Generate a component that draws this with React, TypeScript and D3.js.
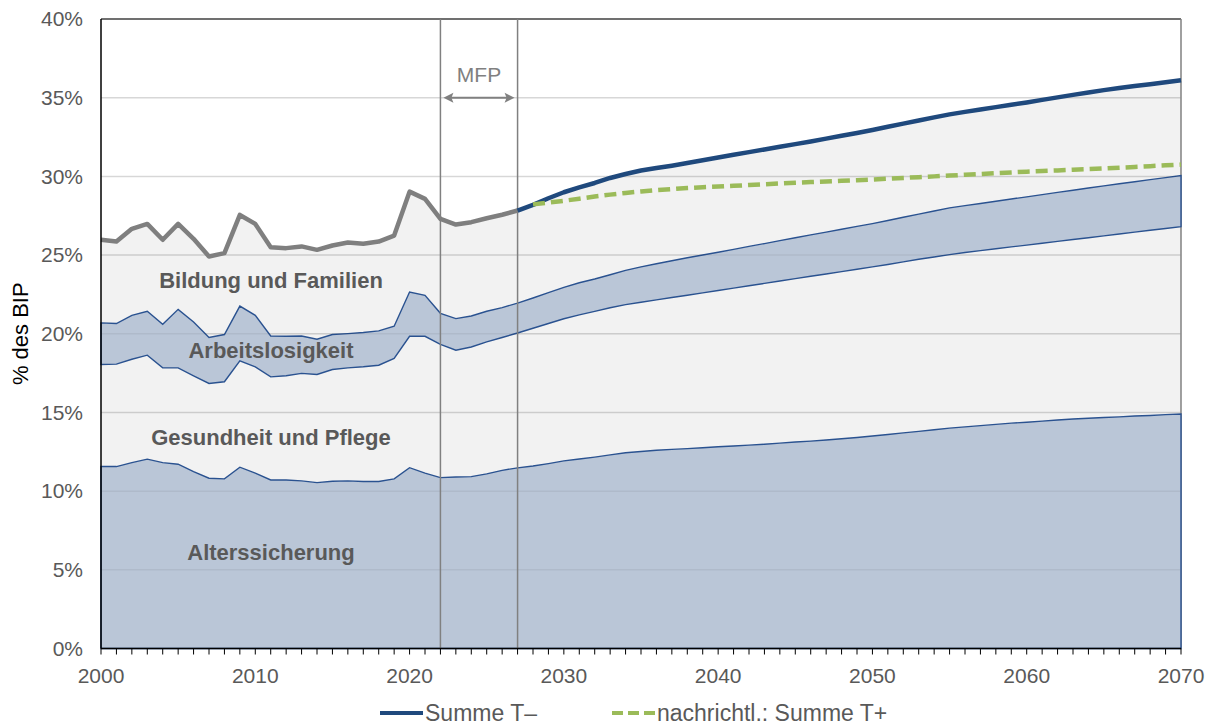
import React from "react";
import * as d3 from "d3";

// years 2000..2070
const years = d3.range(2000, 2071);

// cumulative upper edges of the stacked layers, % des BIP
const alterssicherungTop = [
  11.56, 11.56, 11.81, 12.03, 11.81, 11.71, 11.24, 10.82, 10.78, 11.52, 11.14, 10.71, 10.71, 10.65, 10.54, 10.63,
  10.65, 10.61, 10.61, 10.78, 11.49, 11.14, 10.86, 10.9, 10.92, 11.1, 11.32, 11.48, 11.6, 11.75, 11.92, 12.04,
  12.16, 12.3, 12.44, 12.52, 12.6, 12.65, 12.7, 12.76, 12.82, 12.87, 12.92, 12.98, 13.05, 13.12, 13.18, 13.25,
  13.33, 13.41, 13.5, 13.6, 13.7, 13.8, 13.9, 14.0, 14.08, 14.16, 14.24, 14.32, 14.38, 14.45, 14.52, 14.58, 14.63,
  14.68, 14.72, 14.77, 14.81, 14.86, 14.9,
];
const gesundheitTop = [
  18.05, 18.07, 18.38, 18.64, 17.83, 17.83, 17.33, 16.84, 16.95, 18.28, 17.9, 17.26, 17.33, 17.48, 17.41, 17.73,
  17.83, 17.9, 18.0, 18.43, 19.84, 19.84, 19.33, 18.95, 19.16, 19.48, 19.76, 20.05, 20.35, 20.65, 20.95, 21.2,
  21.42, 21.65, 21.85, 22.0, 22.15, 22.3, 22.45, 22.6, 22.75, 22.9, 23.05, 23.2, 23.35, 23.5, 23.65, 23.8, 23.95,
  24.1, 24.25, 24.4, 24.57, 24.73, 24.88, 25.03, 25.16, 25.28, 25.4, 25.52, 25.63, 25.75, 25.87, 25.99, 26.1,
  26.22, 26.34, 26.46, 26.58, 26.69, 26.81,
];
const arbeitslosigkeitTop = [
  20.69, 20.65, 21.17, 21.43, 20.6, 21.55, 20.75, 19.76, 19.95, 21.76, 21.17, 19.86, 19.84, 19.86, 19.65, 19.95,
  20.01, 20.08, 20.18, 20.48, 22.65, 22.44, 21.3, 20.96, 21.13, 21.43, 21.66, 21.95, 22.27, 22.61, 22.95, 23.24,
  23.48, 23.75, 24.03, 24.25, 24.45, 24.64, 24.83, 25.0, 25.18, 25.36, 25.55, 25.73, 25.92, 26.1, 26.28, 26.46,
  26.64, 26.82, 27.0, 27.2, 27.4, 27.6, 27.8, 28.0, 28.14, 28.28, 28.42, 28.56, 28.7, 28.84, 28.98, 29.12, 29.26,
  29.4, 29.53, 29.66, 29.79, 29.92, 30.05,
];
// Summe T- (= top of Bildung und Familien)
const summeTminus = [
  25.97, 25.86, 26.67, 26.98, 25.97, 26.98, 26.03, 24.91, 25.12, 27.55, 26.98, 25.5, 25.44, 25.55, 25.33, 25.61,
  25.8, 25.72, 25.86, 26.24, 29.03, 28.57, 27.3, 26.94, 27.09, 27.34, 27.56, 27.83, 28.19, 28.61, 28.99, 29.3,
  29.58, 29.9, 30.15, 30.37, 30.53, 30.68, 30.85, 31.02, 31.2, 31.37, 31.54, 31.71, 31.88, 32.05, 32.22, 32.4,
  32.58, 32.76, 32.95, 33.15, 33.35, 33.55, 33.75, 33.94, 34.1, 34.25, 34.4, 34.55, 34.7, 34.86, 35.02, 35.18,
  35.33, 35.48, 35.61, 35.74, 35.86, 35.98, 36.11,
];
// nachrichtl.: Summe T+ (2028..2070)
const tPlusYears = d3.range(2028, 2071);
const summeTplus = [
  28.22, 28.33, 28.45, 28.58, 28.72, 28.84, 28.95, 29.04, 29.12, 29.19, 29.26, 29.31, 29.35, 29.4, 29.45, 29.5,
  29.55, 29.6, 29.64, 29.68, 29.72, 29.76, 29.8, 29.85, 29.9, 29.95, 30.0, 30.05, 30.1, 30.15, 30.2, 30.25, 30.3,
  30.34, 30.38, 30.42, 30.46, 30.5, 30.55, 30.6, 30.65, 30.7, 30.75,
];

const yTicks = [0, 5, 10, 15, 20, 25, 30, 35, 40];
const xTicks = [2000, 2010, 2020, 2030, 2040, 2050, 2060, 2070];
const mfpYears = [2022, 2027];
const histEnd = 2027;

const W = 1214;
const H = 727;
const margin = { top: 19, right: 33, bottom: 78, left: 101 };
const FONT = "'Liberation Sans', Arial, sans-serif";
const BLUE_FILL = "#BAC6D7";
const BLUE_LINE = "#2A5290";
const GRAY_FILL = "#F2F2F2";
const NAVY = "#1F497D";
const GREEN = "#9BBB59";
const TEXT = "#595959";

export default function App() {
  const x = d3.scaleLinear().domain([2000, 2070]).range([margin.left, W - margin.right]);
  const y = d3.scaleLinear().domain([0, 40]).range([H - margin.bottom - 0.5, margin.top]);

  const band = (lo: (i: number) => number, hi: number[]) =>
    d3
      .area<number>()
      .x((yr) => x(yr))
      .y0((_, i) => y(lo(i)))
      .y1((_, i) => y(hi[i]))(years) as string;

  const alters = band(() => 0, alterssicherungTop);
  const gesund = band((i) => alterssicherungTop[i], gesundheitTop);
  const arbeit = band((i) => gesundheitTop[i], arbeitslosigkeitTop);
  const bildung = band((i) => arbeitslosigkeitTop[i], summeTminus);

  const line = d3
    .line<[number, number]>()
    .x((d) => x(d[0]))
    .y((d) => y(d[1]));
  const pairs = years.map((yr, i) => [yr, summeTminus[i]] as [number, number]);
  const histLine = line(pairs.filter((d) => d[0] <= histEnd)) as string;
  const projLine = line(pairs.filter((d) => d[0] >= histEnd)) as string;
  const plusLine = line(tPlusYears.map((yr, i) => [yr, summeTplus[i]] as [number, number])) as string;

  const x0 = x(2000);
  const x1 = x(2070);
  const yTop = y(40);
  const yBot = y(0);

  const arrowY = y(35);
  const mfpX0 = x(mfpYears[0]);
  const mfpX1 = x(mfpYears[1]);

  return (
    <svg width={W} height={H} style={{ position: "absolute", left: 0, top: 0, fontFamily: FONT }}>
      <rect width={W} height={H} fill="#fff" />
      <path d={bildung} fill={GRAY_FILL} />
      <path d={gesund} fill={GRAY_FILL} />

      {/* gridlines */}
      {yTicks.slice(1, -1).map((t) => (
        <line key={t} x1={x0} x2={x1} y1={y(t)} y2={y(t)} stroke="#000" strokeOpacity={0.1} strokeWidth={1.5} />
      ))}

      {/* plot border */}
      <line x1={x0} x2={x1} y1={yTop} y2={yTop} stroke="#404040" strokeWidth={1.5} />
      <line x1={x1} x2={x1} y1={yTop} y2={yBot} stroke="#808080" strokeWidth={1.5} />

      <path d={arbeit} fill={BLUE_FILL} stroke={BLUE_LINE} strokeWidth={1.4} />
      <path d={alters} fill={BLUE_FILL} stroke={BLUE_LINE} strokeWidth={1.4} />
      {yTicks.slice(1, -1).map((t) => (
        <line key={"b" + t} x1={x0} x2={x1 - 1} y1={y(t)} y2={y(t)} stroke="#000" strokeOpacity={0.06} strokeWidth={1.5} />
      ))}

      {/* MFP markers */}
      {mfpYears.map((yr) => (
        <line key={yr} x1={x(yr)} x2={x(yr)} y1={yTop} y2={yBot} stroke="#808080" strokeWidth={1.5} />
      ))}
      <line x1={mfpX0 + 8} x2={mfpX1 - 8} y1={arrowY} y2={arrowY} stroke="#808080" strokeWidth={2} />
      <path
        d={`M${mfpX0 + 3},${arrowY} L${mfpX0 + 13},${arrowY - 5} L${mfpX0 + 11},${arrowY} L${mfpX0 + 13},${arrowY + 5} Z`}
        fill="#808080"
      />
      <path
        d={`M${mfpX1 - 3},${arrowY} L${mfpX1 - 13},${arrowY - 5} L${mfpX1 - 11},${arrowY} L${mfpX1 - 13},${arrowY + 5} Z`}
        fill="#808080"
      />
      <text x={(mfpX0 + mfpX1) / 2} y={75} dy="0.35em" textAnchor="middle" fontSize={21} fill="#808080">
        MFP
      </text>

      {/* sum lines */}
      <path d={histLine} fill="none" stroke="#7F7F7F" strokeWidth={4.5} strokeLinejoin="round" />
      <path d={projLine} fill="none" stroke={NAVY} strokeWidth={4.5} strokeLinejoin="round" />
      <path d={plusLine} fill="none" stroke={GREEN} strokeWidth={4.5} strokeDasharray="12 6" />

      {/* axes */}
      <line x1={x0} x2={x0} y1={yTop} y2={yBot} stroke="#000" strokeWidth={1.5} />
      <line x1={x0} x2={x1} y1={yBot} y2={yBot} stroke="#000" strokeWidth={1.5} />
      {years.map((yr) => (
        <line key={yr} x1={x(yr)} x2={x(yr)} y1={yBot} y2={yBot + 6} stroke="#000" strokeWidth={1} />
      ))}
      {yTicks.map((t) => (
        <text key={t} x={83} y={y(t)} dy="0.35em" textAnchor="end" fontSize={21} fill={TEXT}>
          {t}%
        </text>
      ))}
      {xTicks.map((t) => (
        <text key={t} x={x(t)} y={676} dy="0.35em" textAnchor="middle" fontSize={21} fill={TEXT}>
          {t}
        </text>
      ))}
      <text transform={`translate(20,${(yTop + yBot) / 2}) rotate(-90)`} dy="0.35em" textAnchor="middle" fontSize={22} fill="#000">
        % des BIP
      </text>

      {/* layer labels */}
      {[
        ["Bildung und Familien", 280],
        ["Arbeitslosigkeit", 350],
        ["Gesundheit und Pflege", 437],
        ["Alterssicherung", 552],
      ].map(([label, ly]) => (
        <text key={label as string} x={271} y={ly as number} dy="0.35em" textAnchor="middle" fontSize={22} fontWeight="bold" fill={TEXT}>
          {label}
        </text>
      ))}

      {/* legend */}
      <line x1={380} x2={423} y1={713} y2={713} stroke={NAVY} strokeWidth={4} />
      <text x={425} y={713} dy="0.35em" fontSize={23} fill={TEXT}>
        Summe T–
      </text>
      <line x1={612} x2={655} y1={713} y2={713} stroke={GREEN} strokeWidth={4} strokeDasharray="11 5" />
      <text x={657} y={713} dy="0.35em" fontSize={23} fill={TEXT}>
        nachrichtl.: Summe T+
      </text>
    </svg>
  );
}
